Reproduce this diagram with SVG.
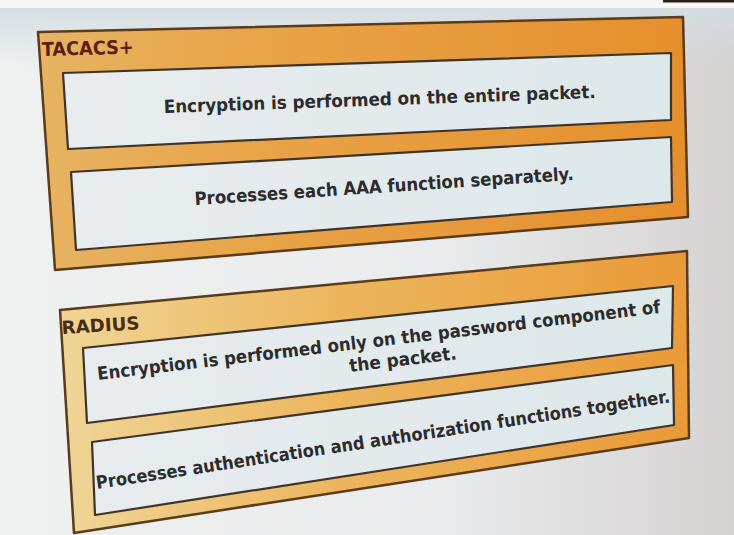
<svg xmlns="http://www.w3.org/2000/svg" width="734" height="535" viewBox="0 0 734 535">
  <defs>
    <linearGradient id="bg" x1="0" y1="0" x2="1" y2="0">
      <stop offset="0" stop-color="#eff1f1"/>
      <stop offset="0.6" stop-color="#e9ebec"/>
      <stop offset="1" stop-color="#d6d2d2"/>
    </linearGradient>
    <linearGradient id="bgTop" x1="0" y1="0" x2="0" y2="1">
      <stop offset="0" stop-color="#d3dde2" stop-opacity="0.9"/>
      <stop offset="1" stop-color="#d3dde2" stop-opacity="0"/>
    </linearGradient>
    <linearGradient id="tacFill" x1="0" y1="0" x2="1" y2="0">
      <stop offset="0" stop-color="#e6b463"/>
      <stop offset="0.3" stop-color="#e9a54a"/>
      <stop offset="1" stop-color="#e58f2c"/>
    </linearGradient>
    <linearGradient id="radFill" x1="0" y1="0" x2="1" y2="0">
      <stop offset="0" stop-color="#f0d597"/>
      <stop offset="0.45" stop-color="#ecb55c"/>
      <stop offset="1" stop-color="#ea9a38"/>
    </linearGradient>
    <linearGradient id="boxFill" x1="0" y1="0" x2="1" y2="0">
      <stop offset="0" stop-color="#e8ecee"/>
      <stop offset="1" stop-color="#dde8eb"/>
    </linearGradient>
  </defs>
  <style>
    .panel { stroke: #5a3b1c; stroke-width: 2.5; stroke-linejoin: round; }
    .box { fill: url(#boxFill); stroke: #3f342a; stroke-width: 2.2; stroke-linejoin: round; }
    .label { font-family: "DejaVu Sans Condensed", "DejaVu Sans", sans-serif; font-weight: bold; }
    .txt { font-family: "DejaVu Sans Condensed", "DejaVu Sans", sans-serif; font-weight: bold; font-size: 18px; fill: #2c2c2c; }
  </style>

  <rect x="0" y="0" width="734" height="535" fill="url(#bg)"/>
  <rect x="0" y="8" width="734" height="60" fill="url(#bgTop)"/>
  <rect x="0" y="0" width="734" height="8" fill="#f7f7f7"/>
  <rect x="663" y="0" width="71" height="2.5" fill="#2a2418"/>

  <g id="connectors"/>

  <g id="tacacs-panel">
    <polygon class="panel" fill="url(#tacFill)" points="38,32 683,17 688,217 55,270"/>
    <text class="label" font-size="19" fill="#5b1e12" textLength="92" lengthAdjust="spacingAndGlyphs" transform="translate(42,56) rotate(-1.5)">TACACS+</text>
  </g>
  <g id="tacacs-encryption">
    <polygon class="box" points="63,73 671,53 671,120 68,149"/>
    <text class="txt" textLength="432" lengthAdjust="spacingAndGlyphs" transform="translate(164,113) rotate(-2)">Encryption is performed on the entire packet.</text>
  </g>
  <g id="tacacs-processes">
    <polygon class="box" points="71,172 671,137 672,202 76,250"/>
    <text class="txt" textLength="380" lengthAdjust="spacingAndGlyphs" transform="translate(195,205) rotate(-3.8)">Processes each AAA function separately.</text>
  </g>

  <g id="radius-panel">
    <polygon class="panel" fill="url(#radFill)" points="60,310 687,251 689,438 74,533"/>
    <text class="label" font-size="18" fill="#4a2c10" textLength="78" lengthAdjust="spacingAndGlyphs" transform="translate(62,334) rotate(-3.5)">RADIUS</text>
  </g>
  <g id="radius-encryption">
    <polygon class="box" points="83,348 673,286 672,348 87,423"/>
    <text class="txt" textLength="567" lengthAdjust="spacingAndGlyphs" transform="translate(98,380) rotate(-6.8)">Encryption is performed only on the password component of</text>
    <text class="txt" textLength="108" lengthAdjust="spacingAndGlyphs" transform="translate(350,372) rotate(-6.8)">the packet.</text>
  </g>
  <g id="radius-processes">
    <polygon class="box" points="92,442 673,365 674,425 95,515"/>
    <text class="txt" textLength="580" lengthAdjust="spacingAndGlyphs" transform="translate(97,489) rotate(-8.6)">Processes authentication and authorization functions together.</text>
  </g>
</svg>
